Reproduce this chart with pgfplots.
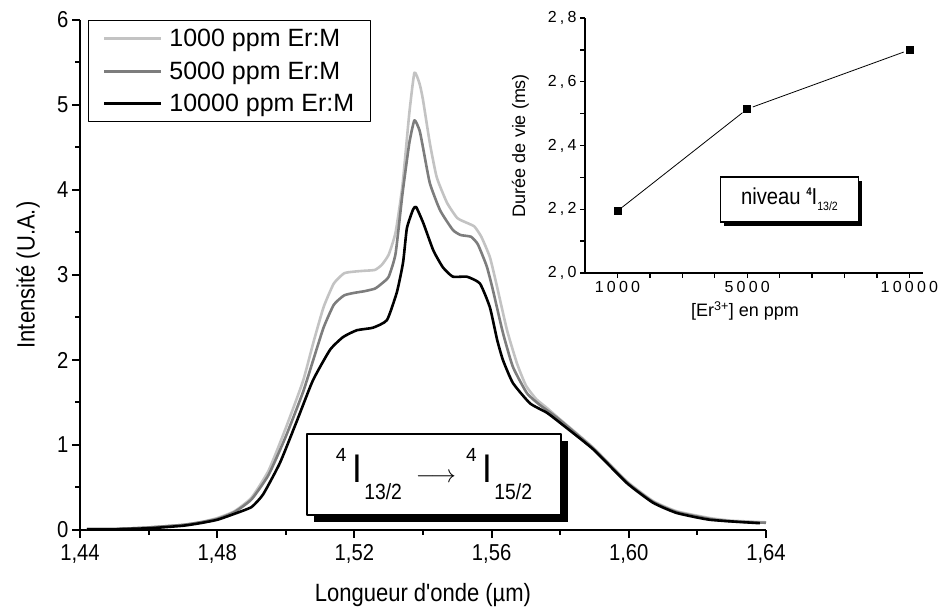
\documentclass[border=0pt]{standalone}
\usepackage{fontspec}
\setmainfont{Liberation Sans}
\newfontfamily\nar[FakeStretch=0.88]{Liberation Sans}
\newfontfamily\spc[LetterSpace=20]{Liberation Sans}
\usepackage{pgfplots}
\pgfplotsset{compat=1.18}
\usetikzlibrary{shadows}
\definecolor{lgray}{RGB}{195,195,195}
\definecolor{mgray}{RGB}{125,125,125}
\begin{document}
\begin{tikzpicture}
\path[use as bounding box] (0pt,0pt) rectangle (940pt,615pt);
\begin{axis}[
  at={(80pt,85pt)}, anchor=south west,
  width=686pt, height=510pt, scale only axis,
  xmin=1.44, xmax=1.64, ymin=0, ymax=6,
  axis x line*=bottom, axis y line*=left,
  axis line style={-, line width=2pt},
  xtick={1.44,1.48,1.52,1.56,1.60,1.64},
  ytick={0,1,2,3,4,5,6},
  minor x tick num=1, minor y tick num=1,
  tick align=outside,
  major tick length=8pt, minor tick length=5pt,
  every tick/.style={black, line width=2pt},
  /pgf/number format/assume math mode=true,
  xticklabel style={font=\fontsize{23}{23}\nar, yshift=-3pt, /pgf/number format/.cd, use comma, fixed, fixed zerofill, precision=2},
  yticklabel style={font=\fontsize{23}{23}\nar},
  xlabel={Longueur d'onde (µm)},
  ylabel={Intensité (U.A.)},
  xlabel style={at={(axis description cs:0.5,-0.1275)}, anchor=center, font=\fontsize{25}{25}\nar},
  ylabel style={at={(axis description cs:-0.0758,0.5)}, anchor=center, font=\fontsize{25}{25}\nar},
  legend style={at={(rel axis cs:0.0117,1)}, anchor=north west, draw=black, line width=1.2pt,
    font=\fontsize{25}{25}\selectfont, inner xsep=14pt, inner ysep=6pt, row sep=10pt},
  legend cell align=left,
  legend image code/.code={\draw[#1, line width=3pt] (0pt,0pt) -- (57pt,0pt); \path (62pt,0pt);},
  line join=round,
]
\addplot[lgray, line width=2.6pt, smooth, tension=0.3] coordinates {
(1.442,0.01) (1.450,0.01) (1.460,0.03) (1.470,0.06) (1.475,0.09) (1.480,0.14)
(1.485,0.22) (1.490,0.38) (1.495,0.70) (1.500,1.20) (1.505,1.75) (1.508,2.20)
(1.511,2.62) (1.514,2.90) (1.517,3.02) (1.520,3.04) (1.523,3.05) (1.526,3.06)
(1.528,3.12) (1.530,3.24) (1.532,3.50) (1.534,4.05) (1.536,4.90) (1.5375,5.38)
(1.539,5.25) (1.540,5.06) (1.542,4.55) (1.544,4.15) (1.547,3.85) (1.550,3.67)
(1.553,3.61) (1.555,3.57) (1.557,3.45) (1.5595,3.21) (1.5616,2.86) (1.5645,2.35)
(1.5674,1.96) (1.570,1.70) (1.573,1.54) (1.576,1.44) (1.580,1.30) (1.5896,0.97)
(1.5995,0.57) (1.6071,0.34) (1.6140,0.22) (1.6237,0.14) (1.630,0.11) (1.640,0.09)};
\addlegendentry{1000 ppm Er:M}
\addplot[mgray, line width=2.6pt, smooth, tension=0.3] coordinates {
(1.442,0.01) (1.450,0.01) (1.460,0.03) (1.470,0.06) (1.475,0.09) (1.480,0.13)
(1.485,0.21) (1.490,0.36) (1.495,0.65) (1.500,1.10) (1.505,1.62) (1.508,2.00)
(1.511,2.38) (1.514,2.65) (1.517,2.76) (1.520,2.79) (1.523,2.81) (1.526,2.84)
(1.528,2.90) (1.530,2.98) (1.532,3.25) (1.534,3.95) (1.536,4.55) (1.5375,4.82)
(1.539,4.70) (1.540,4.50) (1.542,4.08) (1.545,3.76) (1.5487,3.53) (1.551,3.47)
(1.554,3.45) (1.556,3.36) (1.5586,3.10) (1.5604,2.82) (1.5633,2.32) (1.5662,1.92)
(1.5703,1.61) (1.5741,1.47) (1.5791,1.32) (1.5896,0.96) (1.5995,0.56) (1.6071,0.33)
(1.6140,0.21) (1.6237,0.13) (1.630,0.10) (1.640,0.085)};
\addlegendentry{5000 ppm Er:M}
\addplot[black, line width=2.6pt, smooth, tension=0.3] coordinates {
(1.442,0.01) (1.450,0.01) (1.460,0.02) (1.470,0.05) (1.475,0.08) (1.480,0.12)
(1.485,0.19) (1.490,0.27) (1.4934,0.42) (1.4983,0.79) (1.5033,1.29) (1.5079,1.76)
(1.5129,2.12) (1.5167,2.27) (1.5207,2.35) (1.5254,2.38) (1.5295,2.47) (1.5324,2.80)
(1.5342,3.15) (1.5353,3.55) (1.5371,3.77) (1.5380,3.80) (1.5401,3.61) (1.5430,3.29)
(1.5458,3.09) (1.5487,2.98) (1.5528,2.98) (1.5566,2.90) (1.5595,2.62) (1.5616,2.24)
(1.5633,2.00) (1.5662,1.73) (1.5712,1.49) (1.5761,1.38) (1.5800,1.26) (1.5896,0.95)
(1.5995,0.55) (1.6071,0.32) (1.6140,0.20) (1.6237,0.12) (1.6382,0.08)};
\addlegendentry{10000 ppm Er:M}
\node[draw=black, line width=1.3pt, fill=white, minimum width=254pt, minimum height=81pt,
  drop shadow={shadow xshift=7pt, shadow yshift=-7pt, fill=black, opacity=1}]
  at (axis cs:1.5432,0.653) {{\fontsize{19}{19}\selectfont\raisebox{21pt}{4}}\hspace{6pt}{\fontsize{40}{40}\nar I}\hspace{2pt}{\fontsize{22}{22}\nar\raisebox{-17pt}{13/2}}\hspace{14pt}{\fontsize{26}{26}\selectfont$\longrightarrow$}\hspace{10pt}{\fontsize{19}{19}\selectfont\raisebox{21pt}{4}}\hspace{6pt}{\fontsize{40}{40}\nar I}\hspace{2pt}{\fontsize{22}{22}\nar\raisebox{-17pt}{15/2}}};
\end{axis}
\begin{axis}[
  at={(585pt,342pt)}, anchor=south west,
  width=338pt, height=255pt, scale only axis,
  xmin=0, xmax=10420, ymin=2.0, ymax=2.8,
  axis x line*=bottom, axis y line*=left,
  axis line style={-, line width=1.3pt},
  xtick={1000,2000,3000,4000,5000,6000,7000,8000,9000,10000},
  xticklabels={1000,,,,5000,,,,,10000},
  scaled x ticks=false,
  ytick={2.0,2.1,2.2,2.3,2.4,2.5,2.6,2.7,2.8},
  yticklabels={{2,0},,{2,2},,{2,4},,{2,6},,{2,8}},
  tick align=outside, major tick length=5pt,
  every tick/.style={black, line width=1.3pt},
  ticklabel style={font=\fontsize{16}{16}\spc},
  xlabel={[Er\textsuperscript{3+}] en ppm},
  ylabel={Durée de vie (ms)},
  xlabel style={font=\fontsize{18}{18}\selectfont, xshift=-9pt, yshift=-2pt},
  ylabel style={font=\fontsize{18}{18}\selectfont, yshift=12pt},
]
\addplot[black, line width=0.8pt, shorten <=6pt, shorten >=6pt] coordinates {(1000,2.1945) (5000,2.5145)};
\addplot[black, line width=0.8pt, shorten <=6pt, shorten >=6pt] coordinates {(5000,2.5145) (10000,2.6996)};
\addplot[only marks, mark=square*, mark size=3.5pt, black] coordinates {(1000,2.1945) (5000,2.5145) (10000,2.6996)};
\node[draw=black, line width=1.2pt, fill=white, minimum width=138pt, minimum height=45pt,
  drop shadow={shadow xshift=4pt, shadow yshift=-4pt, fill=black, opacity=1}]
  at (axis cs:6302,2.2306) {\fontsize{23}{23}\nar niveau {\fontsize{11}{11}\bfseries\raisebox{9pt}{4}}I{\fontsize{12}{12}\selectfont\raisebox{-6pt}{13/2}}};
\end{axis}
\end{tikzpicture}
\end{document}
